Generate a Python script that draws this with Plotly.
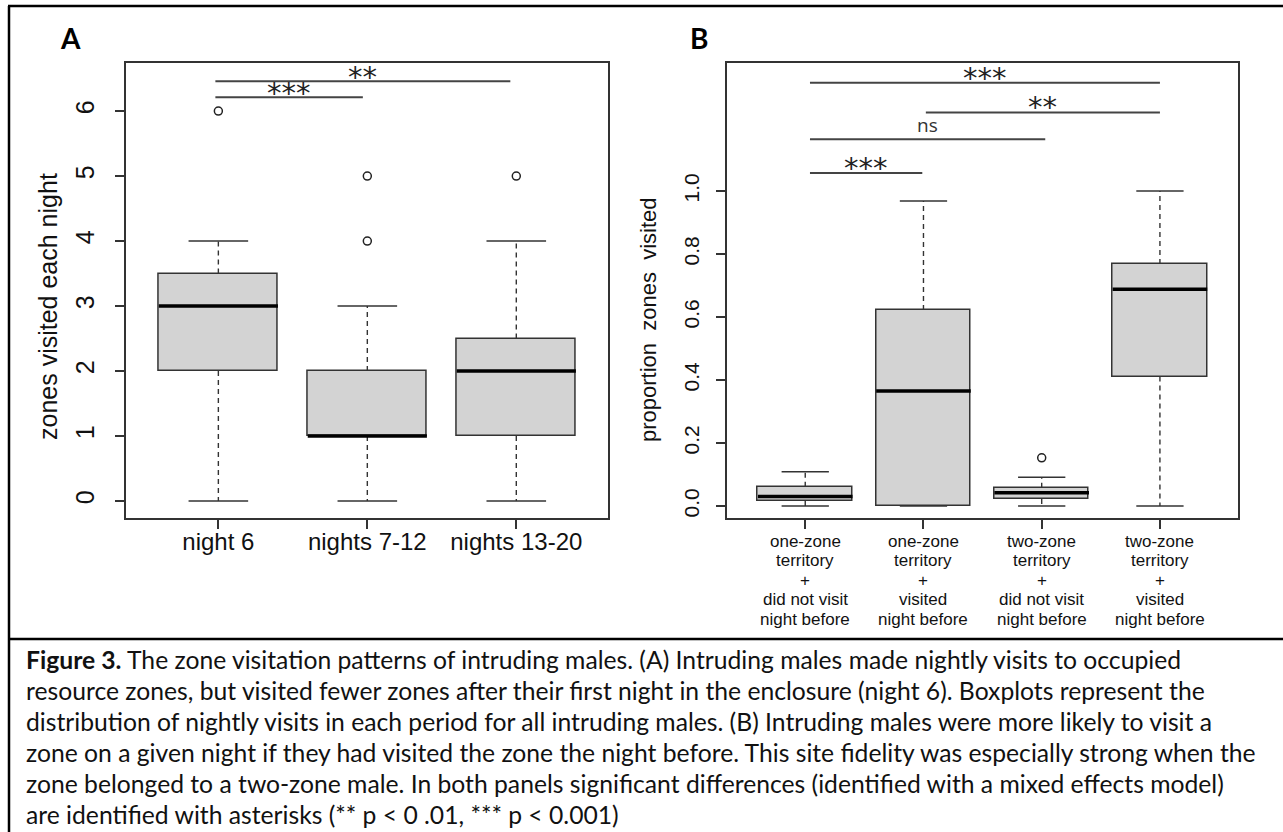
import plotly.graph_objects as go

W, H = 1283, 832

# ---------------- Panel A data ----------------
a_categories = ["night 6", "nights 7-12", "nights 13-20"]
a_lower = [0, 0, 0]
a_q1 = [2, 1, 1]
a_median = [3, 1, 2]
a_q3 = [3.5, 2, 2.5]
a_upper = [4, 3, 4]
a_outliers = [[6], [4, 5], [5]]
a_yticks = [0, 1, 2, 3, 4, 5, 6]

a_sig_labels = ["***", "**"]
a_sig_from = [0.98, 0.98]
a_sig_to = [1.97, 2.96]
a_sig_y = [6.215, 6.46]

# ---------------- Panel B data ----------------
b_category_lines = [
    ["one-zone", "territory", "+", "did not visit", "night before"],
    ["one-zone", "territory", "+", "visited", "night before"],
    ["two-zone", "territory", "+", "did not visit", "night before"],
    ["two-zone", "territory", "+", "visited", "night before"],
]
b_lower = [0, 0, 0, 0]
b_q1 = [0.016, 0.0, 0.022, 0.411]
b_median = [0.030, 0.365, 0.042, 0.688]
b_q3 = [0.061, 0.622, 0.058, 0.768]
b_upper = [0.109, 0.968, 0.091, 1.0]
b_outliers = [[], [], [0.153], []]
b_yticks = [0.0, 0.2, 0.4, 0.6, 0.8, 1.0]

b_sig_labels = ["***", "**", "ns", "***"]
b_sig_from = [1.04, 2.02, 1.04, 1.04]
b_sig_to = [4.0, 4.0, 3.03, 1.99]
b_sig_y = [1.343, 1.249, 1.164, 1.057]

caption_lines = [
    "<b>Figure 3.</b> The zone visitation patterns of intruding males. (A) Intruding males made nightly visits to occupied",
    "resource zones, but visited fewer zones after their first night in the enclosure (night 6). Boxplots represent the",
    "distribution of nightly visits in each period for all intruding males. (B) Intruding males were more likely to visit a",
    "zone on a given night if they had visited the zone the night before. This site fidelity was especially strong when the",
    "zone belonged to a two-zone male. In both panels significant differences (identified with a mixed effects model)",
    "are identified with asterisks (** p < 0 .01, *** p < 0.001)",
]

BOX_FILL = "#d3d3d3"
EDGE = "#333333"
FONT = "Liberation Sans, Arial, sans-serif"
BOXW = 0.8

fig = go.Figure()


def add_boxes(lower, q1, med, q3, upper, outl, xa, ya):
    xs = list(range(1, len(q1) + 1))
    fig.add_trace(go.Bar(
        x=xs, y=[b - a for a, b in zip(q1, q3)], base=q1, width=BOXW,
        marker=dict(color=BOX_FILL, line=dict(color=EDGE, width=1.5)),
        xaxis=xa, yaxis=ya, hoverinfo="skip"))
    wx, wy, cx, cy, mx, my = [], [], [], [], [], []
    for x, lo, a, m, b, hi in zip(xs, lower, q1, med, q3, upper):
        wx += [x, x, None, x, x, None]
        wy += [b, hi, None, a, lo, None]
        cx += [x - BOXW / 4, x + BOXW / 4, None, x - BOXW / 4, x + BOXW / 4, None]
        cy += [hi, hi, None, lo, lo, None]
        mx += [x - BOXW / 2, x + BOXW / 2, None]
        my += [m, m, None]
    fig.add_trace(go.Scatter(x=wx, y=wy, mode="lines", xaxis=xa, yaxis=ya,
                             line=dict(color=EDGE, width=1.4, dash="5px,4px"), hoverinfo="skip"))
    fig.add_trace(go.Scatter(x=cx, y=cy, mode="lines", xaxis=xa, yaxis=ya,
                             line=dict(color=EDGE, width=1.5), hoverinfo="skip"))
    fig.add_trace(go.Scatter(x=mx, y=my, mode="lines", xaxis=xa, yaxis=ya,
                             line=dict(color="#000000", width=3.5), hoverinfo="skip"))
    ox, oy = [], []
    for x, vals in zip(xs, outl):
        for v in vals:
            ox.append(x)
            oy.append(v)
    if ox:
        fig.add_trace(go.Scatter(x=ox, y=oy, mode="markers", xaxis=xa, yaxis=ya,
                                 marker=dict(symbol="circle-open", size=8, color="#222222",
                                             line=dict(width=1.5)), hoverinfo="skip"))


def add_sig(labels, x0s, x1s, ys, xa, ya, star_shift):
    lx, ly = [], []
    for x0, x1, y in zip(x0s, x1s, ys):
        lx += [x0, x1, None]
        ly += [y, y, None]
    fig.add_trace(go.Scatter(x=lx, y=ly, mode="lines", xaxis=xa, yaxis=ya,
                             line=dict(color="#444444", width=2), hoverinfo="skip"))
    xref = "x" if xa == "x" else "x2"
    yref = "y" if ya == "y" else "y2"
    for lab, x0, x1, y in zip(labels, x0s, x1s, ys):
        if lab == "ns":
            font = dict(family="Open Sans, sans-serif", size=19, color="#333333")
            shift = 14
        else:
            font = dict(family="DejaVu Sans, sans-serif", size=29, color="#222222")
            shift = star_shift
        fig.add_annotation(x=(x0 + x1) / 2, y=y, xref=xref, yref=yref, text=lab,
                           showarrow=False, font=font, xanchor="center",
                           yanchor="middle", yshift=shift)


add_boxes(a_lower, a_q1, a_median, a_q3, a_upper, a_outliers, "x", "y")
add_boxes(b_lower, b_q1, b_median, b_q3, b_upper, b_outliers, "x2", "y2")
add_sig(a_sig_labels, a_sig_from, a_sig_to, a_sig_y, "x", "y", 4)
add_sig(b_sig_labels, b_sig_from, b_sig_to, b_sig_y, "x2", "y2", 5)

# B category labels (line by line, tight spacing like R)
label_rows_px = [541, 560.5, 580, 599.5, 619]
for i, lines in enumerate(b_category_lines):
    for row, txt in zip(label_rows_px, lines):
        fig.add_annotation(x=i + 1, y=1 - row / H, xref="x2", yref="paper", text=txt,
                           showarrow=False, yanchor="middle", xanchor="center",
                           font=dict(family=FONT, size=17, color="#111111"))

axis_common = dict(showline=True, mirror=True, linecolor=EDGE, linewidth=1.5,
                   ticks="outside", ticklen=9, tickwidth=1.5, tickcolor=EDGE,
                   showgrid=False, zeroline=False, fixedrange=True)

ydom = [1 - 518 / H, 1 - 63 / H]
fig.update_layout(
    width=W, height=H, margin=dict(l=0, r=0, t=0, b=0),
    paper_bgcolor="white", plot_bgcolor="white", showlegend=False,
    font=dict(family=FONT, color="#111111"),
    bargap=0,
    xaxis=dict(domain=[125.7 / W, 608.2 / W], range=[0.378, 3.617],
               tickvals=[1, 2, 3], ticktext=a_categories, ticklabelstandoff=-8,
               tickfont=dict(size=24), anchor="y", **axis_common),
    yaxis=dict(domain=ydom, range=[-0.26, 6.74], tickvals=a_yticks, ticklabelstandoff=11,
               tickangle=-90, tickfont=dict(size=25), anchor="x", **axis_common),
    xaxis2=dict(domain=[726.5 / W, 1238.2 / W], range=[0.334, 4.662],
                tickvals=[1, 2, 3, 4], showticklabels=False, anchor="y2", **axis_common),
    yaxis2=dict(domain=ydom, range=[-0.038, 1.406], tickvals=b_yticks, ticklabelstandoff=8,
                tickformat=".1f", tickangle=-90, tickfont=dict(size=21), anchor="x2",
                **axis_common),
)

# Axis titles
fig.add_annotation(x=48 / W, y=1 - 307 / H, xref="paper", yref="paper",
                   xanchor="center", yanchor="middle",
                   text="zones visited each night", textangle=-90, showarrow=False,
                   font=dict(family=FONT, size=25, color="#111111"))
fig.add_annotation(x=648 / W, y=1 - 320 / H, xref="paper", yref="paper",
                   xanchor="center", yanchor="middle",
                   text="proportion\u00a0 zones\u00a0 visited", textangle=-90, showarrow=False,
                   font=dict(family=FONT, size=22, color="#111111"))

# Panel letters
for letter, px in [("A", 70), ("B", 699)]:
    fig.add_annotation(x=px / W, y=1 - 38 / H, xref="paper", yref="paper",
                       xanchor="center", yanchor="middle",
                       text="<b>%s</b>" % letter, showarrow=False,
                       font=dict(family="Lato, sans-serif", size=28, color="#000000"))

# Caption
for i, line in enumerate(caption_lines):
    fig.add_annotation(x=24 / W, y=1 - (659 + 31 * i) / H, xref="paper", yref="paper",
                       text=line, showarrow=False, xanchor="left", yanchor="middle",
                       font=dict(family="Lato, sans-serif", size=24.7, color="#111111"))

# Frame lines
frame = dict(color="#000000", width=2.5)
fig.add_shape(type="line", xref="paper", yref="paper", x0=8 / W, x1=1, y0=1 - 6 / H, y1=1 - 6 / H, line=frame)
fig.add_shape(type="line", xref="paper", yref="paper", x0=9 / W, x1=9 / W, y0=0, y1=1 - 6 / H, line=frame)
fig.add_shape(type="line", xref="paper", yref="paper", x0=8 / W, x1=1, y0=1 - 639 / H, y1=1 - 639 / H, line=frame)

fig.write_html("out.html")
